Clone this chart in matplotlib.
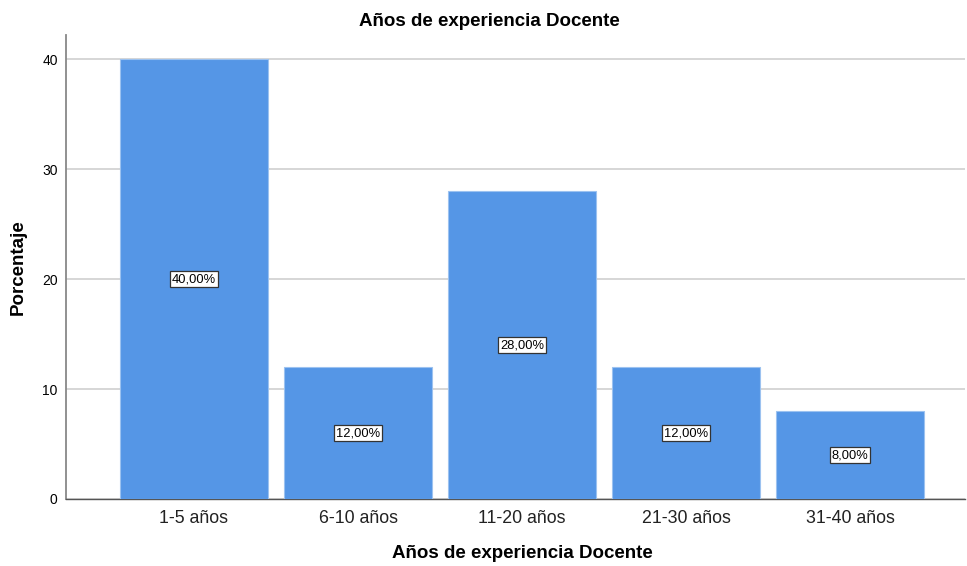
import matplotlib
matplotlib.use("Agg")
import matplotlib.pyplot as plt

categories = ["1-5 años", "6-10 años", "11-20 años", "21-30 años", "31-40 años"]
values = [40, 12, 28, 12, 8]
labels = ["40,00%", "12,00%", "28,00%", "12,00%", "8,00%"]
yticks = [0, 10, 20, 30, 40]

plt.rcParams['font.family'] = ['Liberation Sans', 'DejaVu Sans']

fig = plt.figure(figsize=(9.67, 5.66), dpi=100)
ax = fig.add_axes([66/967, 1-499/566, (965-66)/967, (499-35)/566])

x = list(range(len(categories)))
bars = ax.bar(x, values, width=0.9, color="#5596E6", edgecolor="#9cc2f0", linewidth=0.8, zorder=3)

for xi, v, lab in zip(x, values, labels):
    ax.text(xi, v/2, lab, ha="center", va="center", fontsize=9.3, zorder=4,
            bbox=dict(boxstyle="square,pad=0.15", facecolor="white", edgecolor="#333333", linewidth=0.9))

ax.set_xlim(-0.78, 4.70)
ax.set_ylim(0, 42.2)
ax.set_yticks(yticks)
ax.set_yticklabels([str(t) for t in yticks], fontsize=10)
ax.set_xticks(x)
ax.set_xticklabels(categories, fontsize=12.8, color="#222222")
ax.tick_params(axis="x", length=0, pad=8)
ax.tick_params(axis="y", length=0, pad=6)
ax.yaxis.grid(True, color="#d0d0d0", linewidth=1.2, zorder=0)
ax.set_axisbelow(True)
for s in ["top", "right"]:
    ax.spines[s].set_visible(False)
ax.spines["left"].set_color("#888888")
ax.spines["left"].set_linewidth(1.3)
ax.spines["bottom"].set_color("#555555")
ax.spines["bottom"].set_linewidth(1.0)

fig.text(489/967, 1-21/566, "Años de experiencia Docente", fontsize=13.5, fontweight="bold",
         ha="center", va="center")
fig.text(522/967, 1-554/566, "Años de experiencia Docente", fontsize=13.5, fontweight="bold",
         ha="center", va="center")
fig.text(18/967, 1-267/566, "Porcentaje", fontsize=13.5, fontweight="bold",
         ha="center", va="center", rotation=90)

fig.savefig("out.png", dpi=100)
